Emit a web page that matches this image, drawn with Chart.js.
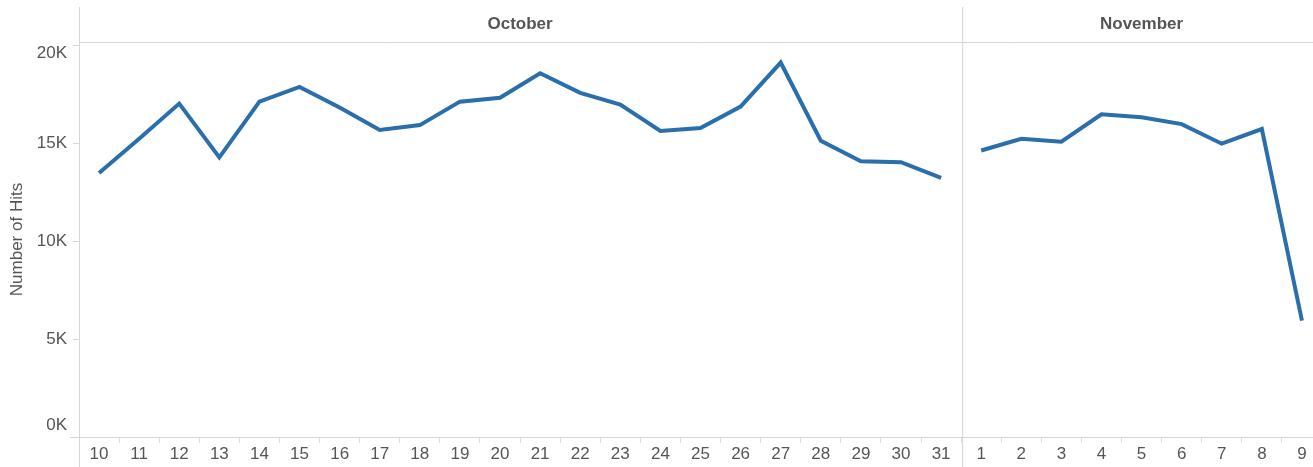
<!DOCTYPE html>
<html lang="en">
<head>
  <meta charset="UTF-8">
  <title>Number of Hits by Day</title>
  <script src="https://cdn.jsdelivr.net/npm/chart.js"></script>
  <style>
    body {
      margin: 0;
      padding: 0;
      background: #fff;
      overflow: hidden;
    }
    .wrap {
      position: relative;
      width: 1322px;  /* last column runs a bit past the window, like the original */
      height: 467px;
    }
  </style>
</head>
<body>
  <div class="wrap">
    <canvas id="hitsChart"></canvas>
  </div>

  <script>
    // days shown on the x axis, per month
    const octDays = ['10','11','12','13','14','15','16','17','18','19','20','21','22','23','24','25','26','27','28','29','30','31'];
    const novDays = ['1','2','3','4','5','6','7','8','9'];

    // hits per day
    const octHits = [13500, 15250, 17050, 14300, 17150, 17900, 16850, 15700, 15950, 17150, 17350, 18600, 17600, 17000, 15650, 15800, 16900, 19150, 15150, 14100, 14050, 13250];
    const novHits = [14650, 15250, 15100, 16500, 16350, 16000, 15000, 15750, 5950];

    const monthNames = ['October', 'November'];
    const yTicks = [0, 5000, 10000, 15000, 20000];

    const labels = octDays.concat(novDays);
    const octSeries = octHits.concat(novDays.map(() => null));
    const novSeries = octDays.map(() => null).concat(novHits);

    const gridGrey = '#d6d6d6';
    const textGrey = '#555';
    const fontFamily = '"Liberation Sans", Arial, sans-serif';

    // header band with month names, pane divider, long axis lines and y labels
    const panesPlugin = {
      id: 'panes',
      afterDraw(chart) {
        const c = chart.ctx;
        const area = chart.chartArea;
        const x = chart.scales.x;
        const y = chart.scales.y;
        const split = (x.getPixelForValue(octDays.length - 1) + x.getPixelForValue(octDays.length)) / 2;
        const H = chart.height;

        c.save();
        c.strokeStyle = gridGrey;
        c.lineWidth = 1;

        // header bottom line
        c.beginPath();
        c.moveTo(area.left, area.top + 0.5);
        c.lineTo(area.right, area.top + 0.5);
        c.stroke();

        // y axis line from top of header to the bottom
        c.beginPath();
        c.moveTo(area.left + 0.5, 7);
        c.lineTo(area.left + 0.5, H);
        c.stroke();

        // divider between the two months
        c.beginPath();
        c.moveTo(split + 1.5, 7);
        c.lineTo(split + 1.5, H);
        c.stroke();

        // x axis line sticks out a little to the left
        c.beginPath();
        c.moveTo(70, area.bottom + 0.5);
        c.lineTo(area.right, area.bottom + 0.5);
        c.stroke();

        // month names
        c.fillStyle = textGrey;
        c.font = 'bold 17px ' + fontFamily;
        c.textAlign = 'center';
        c.textBaseline = 'middle';
        c.fillText(monthNames[0], (area.left + split) / 2, 24);
        c.fillText(monthNames[1], (split + area.right) / 2, 24);

        // y tick labels, kept inside the plot like the original does
        c.font = '17px ' + fontFamily;
        c.textAlign = 'right';
        yTicks.forEach(v => {
          let py = y.getPixelForValue(v);
          py = Math.max(area.top + 11, Math.min(area.bottom - 12, py));
          c.fillText((v / 1000) + 'K', area.left - 12, py);
        });
        c.restore();
      }
    };

    const ctx = document.getElementById('hitsChart').getContext('2d');
    new Chart(ctx, {
      type: 'line',
      data: {
        labels: labels,
        datasets: [
          {
            label: monthNames[0],
            data: octSeries,
            borderColor: '#2a6fab',
            borderWidth: 4,
            pointRadius: 0,
            tension: 0,
            spanGaps: false
          },
          {
            label: monthNames[1],
            data: novSeries,
            borderColor: '#2a6fab',
            borderWidth: 4,
            pointRadius: 0,
            tension: 0,
            spanGaps: false
          }
        ]
      },
      options: {
        responsive: true,
        maintainAspectRatio: false,
        animation: false,
        layout: { padding: { top: 42, left: 0, right: 0, bottom: 0 } },
        plugins: {
          legend: { display: false },
          tooltip: { enabled: false }
        },
        scales: {
          x: {
            offset: true,
            grid: {
              offset: true,
              drawOnChartArea: false,
              drawTicks: true,
              tickLength: 6,
              color: '#dcdcdc'
            },
            border: { display: false },
            ticks: {
              color: textGrey,
              font: { family: fontFamily, size: 17 },
              padding: 1,
              maxRotation: 0,
              autoSkip: false
            },
            afterFit(scale) { scale.height = 30; }
          },
          y: {
            min: 0,
            max: 20200,
            afterBuildTicks(scale) {
              scale.ticks = yTicks.map(v => ({ value: v }));
            },
            grid: {
              drawOnChartArea: false,
              drawTicks: true,
              tickLength: 6,
              color: gridGrey
            },
            border: { display: false },
            ticks: {
              color: 'rgba(0,0,0,0)',  // drawn by the plugin instead
              font: { family: fontFamily, size: 17 },
              padding: 6,
              callback: v => (v / 1000) + 'K'
            },
            title: {
              display: true,
              text: 'Number of Hits',
              color: textGrey,
              font: { family: fontFamily, size: 17 },
              padding: { top: 7, bottom: 0 }
            },
            afterFit(scale) { scale.width = 79; }
          }
        }
      },
      plugins: [panesPlugin]
    });
  </script>
</body>
</html>
